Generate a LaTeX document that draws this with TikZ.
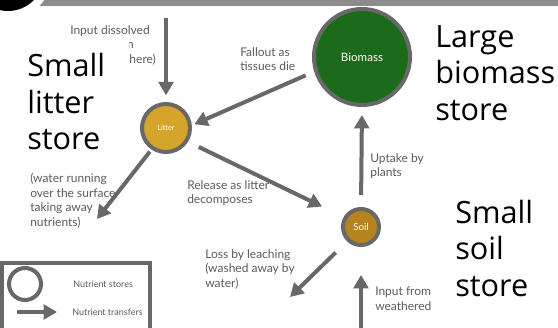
\documentclass[tikz,border=0pt]{standalone}
\usepackage{fontspec}
\setmainfont{Lato}
\newfontfamily\headfont{Open Sans}
\usetikzlibrary{arrows.meta}
\definecolor{flowgray}{HTML}{686868}
\definecolor{labelgray}{HTML}{5C5C5C}
\definecolor{bargray}{HTML}{8C8C8C}
\definecolor{littergold}{HTML}{D4A52A}
\definecolor{soilbrown}{HTML}{B5841F}
\definecolor{biomassgreen}{HTML}{1B6B1B}

\begin{document}
\begin{tikzpicture}[x=0.75pt, y=-0.75pt,
    store/.style={circle, draw=flowgray, line width=3pt, text=white, inner sep=0pt},
    flow/.style={draw=flowgray, line width=3pt, -{Triangle[width=11pt,length=10pt]}},
    note/.style={anchor=north west, inner sep=0pt, align=left, text=labelgray, font=\fontsize{9}{11}\selectfont},
    keynote/.style={anchor=west, inner sep=0pt, text=labelgray, font=\fontsize{6.75}{8}\selectfont},
    bigtext/.style={anchor=north west, align=left, fill=white, inner xsep=15pt, inner ysep=6pt, font=\headfont\fontsize{23}{27.5}\selectfont}
]
\useasboundingbox (0,0) rectangle (558,328);
\fill[white] (0,0) rectangle (558,328);

% header strip
\begin{scope}
\clip (0,0) rectangle (558,328);
\fill[bargray] (0,0) rectangle (558,6);
\fill[white] (8,-25) circle[radius=44];
\fill[black] (8,-25) circle[radius=36];
\end{scope}

% stores
\node[store, fill=littergold, minimum size=36pt, font=\fontsize{5.6}{6}\selectfont] (litter) at (166,128) {Litter};
\node[store, fill=biomassgreen, minimum size=72pt, font=\fontsize{8.7}{10}\selectfont] (biomass) at (362,57) {Biomass};
\node[store, fill=soilbrown, minimum size=27pt, font=\fontsize{7.3}{8}\selectfont] (soil) at (361,227) {Soil};

% free ends
\coordinate (rain) at (166,18);
\coordinate (runoff) at (97,219);
\coordinate (leached) at (290,297);
\coordinate (rock) at (361,330);

% transfers
\draw[flow, shorten >=5pt] (rain) -- (litter);
\draw[flow, shorten <=7pt, shorten >=2pt] (biomass.197) -- (litter.6);
\draw[flow, shorten <=9pt, shorten >=18pt] (litter.-32) -- (soil.150);
\draw[flow, shorten <=2pt] (litter.236) -- (runoff);
\draw[flow, shorten <=9pt, shorten >=6pt] (soil.north) -- (biomass.south);
\draw[flow, shorten <=12pt] (soil.226) -- (leached);
\draw[flow, shorten >=21pt] (rock) -- (soil.south);

% flow labels
\node[note] (rainlabel) at (70,25) {Input dissolved\\in rain (from\\the atmosphere)};
\node[note] (falloutlabel) at (240,47) {Fallout as\\tissues die};
\node[note] (uptakelabel) at (370,153) {Uptake by\\plants};
\node[note] (releaselabel) at (187,180) {Release as litter\\decomposes};
\node[note] (runofflabel) at (30,173) {(water running\\over the surface\\taking away\\nutrients)};
\node[note] (leachlabel) at (205,249) {Loss by leaching\\(washed away by\\water)};
\node[note] (rocklabel) at (375,287) {Input from\\weathered rock};

% store sizes
\node[bigtext, inner xsep=18pt, inner ysep=12.75pt] (litterstore) at (3,36) {Small\\litter\\store};
\node[bigtext] (biomassstore) at (415,17) {Large\\biomass\\store};
\node[bigtext, inner ysep=14pt] (soilstore) at (435,181) {Small\\soil\\store};

% key
\draw[flowgray, line width=3pt] (2,263) rectangle (150,340);
\node[circle, draw=flowgray, line width=3pt, minimum size=24pt, inner sep=0pt] (keystore) at (25,284) {};
\coordinate (keyfrom) at (17,312);
\coordinate (keyto) at (57,312);
\draw[flow, line width=3.5pt] (keyfrom) -- (keyto);
\node[keynote] (storeskey) at (73,284) {Nutrient stores};
\node[keynote] (transferskey) at (72,312) {Nutrient transfers};

\end{tikzpicture}
\end{document}
